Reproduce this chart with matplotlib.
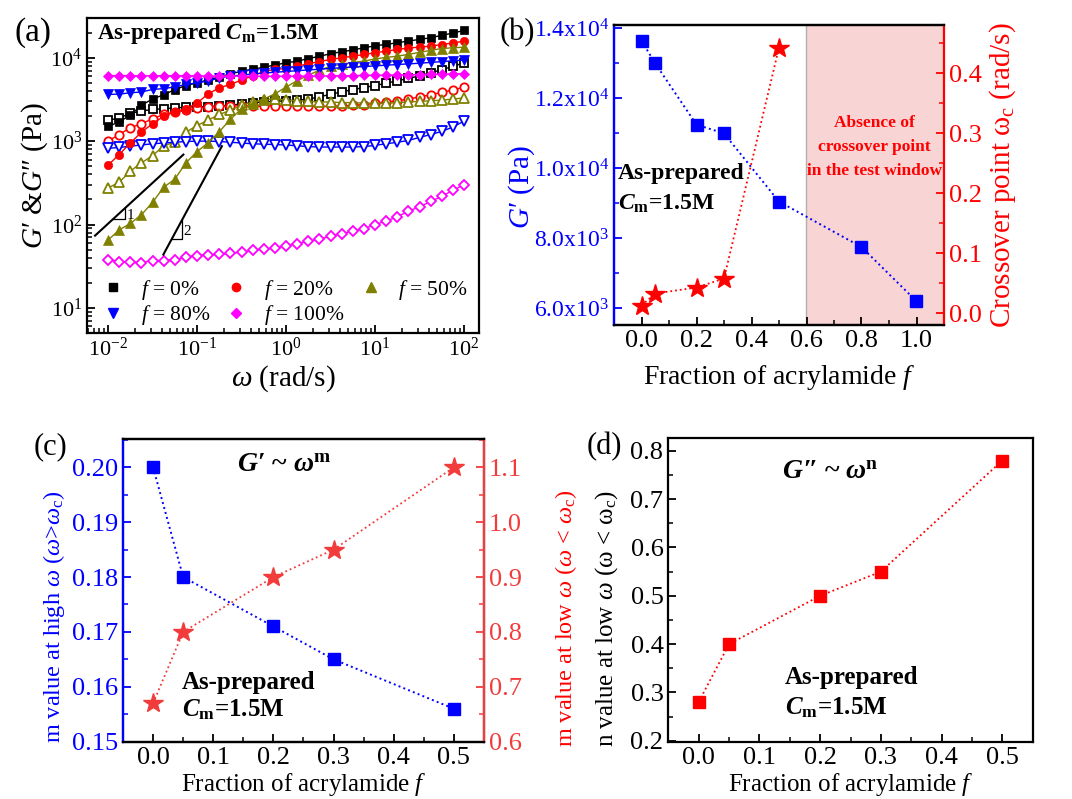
import numpy as np
import matplotlib
matplotlib.use("Agg")
import matplotlib.pyplot as plt
from matplotlib.ticker import FixedLocator, MultipleLocator, LogLocator, NullFormatter, FixedFormatter, FormatStrFormatter
from matplotlib.lines import Line2D

plt.rcParams['font.family'] = ['Liberation Serif', 'DejaVu Serif']
plt.rcParams['mathtext.fontset'] = 'custom'
plt.rcParams['mathtext.rm'] = 'Liberation Serif'
plt.rcParams['mathtext.it'] = 'Liberation Serif:italic'
plt.rcParams['mathtext.bf'] = 'Liberation Serif:bold'
plt.rcParams['mathtext.bfit'] = 'Liberation Serif:bold:italic'
plt.rcParams['axes.unicode_minus'] = False

# ---------------- data: panel (a) ----------------
omega = [0.01, 0.0133, 0.0178, 0.0237, 0.0316, 0.0422, 0.0562, 0.075, 0.1, 0.133, 0.178,
         0.237, 0.316, 0.422, 0.562, 0.75, 1.0, 1.33, 1.78, 2.37, 3.16, 4.22, 5.62, 7.5,
         10, 13.3, 17.8, 23.7, 31.6, 42.2, 56.2, 75, 100]

gp_f0 = [1500, 1700, 2050, 2700, 3200, 3600, 4150, 4650, 5000, 5450, 5900, 6400, 6900, 7300,
         7700, 8200, 8700, 9100, 9800, 10400, 11200, 11800, 12400, 13200, 13900, 14500, 15100,
         15900, 16600, 17400, 18600, 19800, 21300]
gpp_f0 = [1770, 1900, 2150, 2300, 2400, 2450, 2500, 2550, 2600, 2600, 2650, 2700, 2800, 2900,
          2950, 3000, 3050, 3100, 3200, 3400, 3650, 3900, 4150, 4400, 4650, 4950, 5300, 5650,
          6100, 6600, 7200, 7900, 8700]
gp_f20 = [515, 690, 950, 1280, 1620, 1990, 2250, 2450, 2850, 3700, 4350, 4800, 5400, 6100,
          6800, 7300, 7400, 7900, 8500, 9000, 9550, 10000, 10450, 10950, 11500, 12000, 12600,
          13100, 13400, 13800, 14400, 15100, 15800]
gpp_f20 = [1000, 1200, 1450, 1620, 1850, 2090, 2230, 2350, 2500, 2580, 2620, 2640, 2650, 2650,
           2650, 2650, 2650, 2640, 2630, 2620, 2620, 2640, 2680, 2750, 2850, 2950, 3050, 3200,
           3400, 3600, 3850, 4100, 4450]
gp_f50 = [65, 86, 103, 131, 184, 280, 350, 550, 750, 955, 1300, 1830, 2450, 2820, 3200, 3700,
          4450, 5300, 6200, 7100, 7900, 8400, 8800, 9100, 9700, 10100, 10450, 11000, 11600,
          12300, 12900, 13200, 13400]
gpp_f50 = [275, 320, 437, 550, 670, 880, 970, 1280, 1540, 1790, 2090, 2350, 2680, 2950, 3150,
           3200, 3100, 3050, 3000, 2950, 2950, 2900, 2900, 2850, 2850, 2850, 2900, 2950, 3000,
           3050, 3100, 3200, 3300]
gp_f80 = [3630, 3670, 3800, 3890, 4170, 4270, 4470, 4790, 5010, 5250, 5750, 6030, 6200, 6400,
          6550, 6700, 6850, 7000, 7150, 7300, 7450, 7600, 7750, 7850, 8000, 8150, 8300, 8450,
          8600, 8800, 9000, 9200, 9400]
gpp_f80 = [820, 840, 870, 900, 930, 950, 970, 990, 1000, 1000, 990, 970, 950, 930, 920, 910,
           900, 880, 860, 850, 850, 850, 850, 860, 890, 930, 970, 1020, 1110, 1200, 1310, 1480,
           1740]
gp_f100 = [6100, 6120, 6100, 6080, 6100, 6090, 6100, 6080, 6060, 6050, 6050, 6040, 6000, 6010,
           6000, 6020, 6000, 6010, 6030, 6050, 6060, 6100, 6100, 6150, 6160, 6200, 6200, 6250,
           6300, 6310, 6350, 6400, 6450]
gpp_f100 = [38, 36, 35.5, 35, 37, 37, 38, 40.5, 42.5, 43.5, 44, 45, 46.5, 49, 50.5, 52.5, 55,
            59, 63, 67, 72, 78, 83, 89, 100, 110, 124, 145, 163, 189, 218, 257, 302]

legend_labels = ['$f$ = 0%', '$f$ = 20%', '$f$ = 50%', '$f$ = 80%', '$f$ = 100%']

# slope guide lines (a)
guide1_x = [0.00714, 0.0702]
guide1_y = [73.6, 690]
tri1_x = [0.01147, 0.0155, 0.0155]
tri1_y = [118, 118, 160]
guide2_x = [0.0418, 0.19]
guide2_y = [43.6, 870]
tri2_x = [0.052, 0.0673, 0.0673]
tri2_y = [67.5, 67.5, 113]

# ---------------- data: panel (b) ----------------
frac_b = [0.0, 0.05, 0.2, 0.3, 0.5, 0.8, 1.0]
gprime_b = [13650, 13000, 11250, 11000, 9050, 7750, 6200]
frac_b_cross = [0.0, 0.05, 0.2, 0.3, 0.5]
omega_c = [0.013, 0.033, 0.043, 0.058, 0.443]
b_left_ticks = [6000, 8000, 10000, 12000, 14000]
b_left_labels = ['6.0x10$^3$', '8.0x10$^3$', '1.0x10$^4$', '1.2x10$^4$', '1.4x10$^4$']

# ---------------- data: panel (c) ----------------
frac_c = [0.0, 0.05, 0.2, 0.3, 0.5]
m_high = [0.200, 0.180, 0.171, 0.165, 0.156]
m_low = [0.67, 0.80, 0.90, 0.95, 1.10]

# ---------------- data: panel (d) ----------------
frac_d = [0.0, 0.05, 0.2, 0.3, 0.5]
n_low = [0.28, 0.40, 0.50, 0.55, 0.78]

BLUE = '#0000ff'
RED = '#ff0000'
LRED = '#f23c3c'
OLIVE = '#808000'
MAG = '#ff00ff'

W, H = 1072, 799
fig = plt.figure(figsize=(W / 100, H / 100), dpi=100)


def px_axes(l, t, r, b):
    return fig.add_axes([l / W, 1 - b / H, (r - l) / W, (b - t) / H])


SPW = 1.6


def style_spines(ax, lw=SPW):
    for s in ax.spines.values():
        s.set_linewidth(lw)


def tick_lengths(ax):
    ax.tick_params(which='major', length=6, width=1.3)
    ax.tick_params(which='minor', length=3.5, width=1.1)


# ============ panel (a) ============
axa = px_axes(87, 18, 479, 333)
style_spines(axa)
axa.set_xscale('log')
axa.set_yscale('log')
axa.set_xlim(0.0058, 147)
axa.set_ylim(5, 30000)

series = [
    (gp_f0, gpp_f0, 'k', 's', 5.5),
    (gp_f20, gpp_f20, RED, 'o', 6),
    (gp_f50, gpp_f50, OLIVE, '^', 6.5),
    (gp_f80, gpp_f80, BLUE, 'v', 6.5),
    (gp_f100, gpp_f100, MAG, 'D', 5.5),
]
handles = []
for gp, gpp, c, m, ms in series:
    axa.plot(omega, gpp, color=c, lw=1.0, marker=m, ms=ms, mfc='white', mec=c, mew=1.3, zorder=2)
for gp, gpp, c, m, ms in series:
    axa.plot(omega, gp, color=c, lw=1.0, marker=m, ms=ms, mfc=c, mec=c, mew=0.5, zorder=3)
    handles.append(Line2D([], [], ls='none', marker=m, ms=ms, color=c))

axa.plot(guide1_x, guide1_y, color='k', lw=1.5, zorder=4)
axa.plot(tri1_x, tri1_y, color='k', lw=0.9, zorder=4)
axa.text(0.0162, 128, '1', fontsize=11, ha='left', va='center')
axa.plot(guide2_x, guide2_y, color='k', lw=1.5, zorder=4)
axa.plot(tri2_x, tri2_y, color='k', lw=0.9, zorder=4)
axa.text(0.071, 82, '2', fontsize=11, ha='left', va='center')

axa.xaxis.set_major_locator(FixedLocator([1e-2, 1e-1, 1e0, 1e1, 1e2]))
axa.xaxis.set_minor_locator(LogLocator(base=10, subs=np.arange(2, 10), numticks=20))
axa.yaxis.set_major_locator(FixedLocator([1e1, 1e2, 1e3, 1e4]))
axa.yaxis.set_minor_locator(LogLocator(base=10, subs=np.arange(2, 10), numticks=20))
axa.xaxis.set_minor_formatter(NullFormatter())
axa.yaxis.set_minor_formatter(NullFormatter())
axa.tick_params(which='both', direction='in', top=False, right=False, labelsize=16)
tick_lengths(axa)
axa.set_xlabel(r'$\omega$ (rad/s)', fontsize=21, labelpad=2)
axa.set_ylabel('$G$′ &$G$″ (Pa)', fontsize=21, labelpad=0)
axa.text(0.026, 0.952, r'As-prepared $\mathbfit{C}_{\mathbf{m}}$=1.5M', transform=axa.transAxes,
         fontsize=16.5, fontweight='bold', ha='left', va='center')
order = [0, 3, 1, 4, 2]
axa.legend([handles[i] for i in order], [legend_labels[i] for i in order], ncol=3,
           loc='lower left', bbox_to_anchor=(-0.008, -0.04), frameon=False, fontsize=15.5,
           handlelength=1.0, handletextpad=0.8, columnspacing=0.7, labelspacing=0.08,
           borderpad=0.35)
fig.text(14 / W, 1 - 33 / H, '(a)', fontsize=24, ha='left', va='center')

# ============ panel (b) ============
axb = px_axes(614, 25, 944, 325)
style_spines(axb)
axb.set_xlim(-0.1, 1.1)
axb.set_ylim(5520, 14100)
axb.axvspan(0.6, 1.1, color='#f9d4d4', zorder=0, lw=0)
axb.axvline(0.6, color='#b0b0b0', lw=1.0, zorder=1)
axb.plot(frac_b, gprime_b, ls=':', color=BLUE, lw=1.4, marker='s', ms=8, mfc=BLUE, mec=BLUE, zorder=3)
axb.spines['left'].set_color(BLUE)
axb.spines['right'].set_visible(False)
axb.set_yticks(b_left_ticks)
axb.yaxis.set_major_formatter(FixedFormatter(b_left_labels))
axb.yaxis.set_minor_locator(MultipleLocator(1000))
axb.xaxis.set_major_locator(MultipleLocator(0.2))
axb.xaxis.set_minor_locator(MultipleLocator(0.1))
axb.tick_params(axis='both', which='both', direction='in', top=False, right=False)
tick_lengths(axb)
axb.tick_params(axis='y', which='both', colors=BLUE, labelsize=17)
axb.tick_params(axis='x', labelsize=19)
axb.set_xlabel('Fraction of acrylamide $f$', fontsize=20, labelpad=8)
axb.set_ylabel('$G$′ (Pa)', fontsize=21, color=BLUE)
axb.yaxis.set_label_coords(-0.233, 0.46)
axb.text(0.847, 0.593, 'Absence of\ncrossover point\nin the test window', color=RED,
         transform=axb.get_xaxis_transform(),
         fontsize=12.5, fontweight='bold', ha='center', va='center', linespacing=1.65)
axb.text(0.012, 0.505, 'As-prepared', transform=axb.transAxes, fontsize=17,
         fontweight='bold', ha='left', va='center')
axb.text(0.012, 0.405, r'$\mathbfit{C}_{\mathbf{m}}$=1.5M', transform=axb.transAxes, fontsize=17,
         fontweight='bold', ha='left', va='center')

axb2 = axb.twinx()
style_spines(axb2)
axb2.spines['left'].set_color(BLUE)
axb2.spines['right'].set_color(RED)
axb2.set_ylim(-0.0195, 0.4805)
axb2.plot(frac_b_cross, omega_c, ls=':', color=RED, lw=1.3, marker='*', ms=15, mfc=RED, mec=RED, zorder=3)
axb2.yaxis.set_major_locator(MultipleLocator(0.1))
axb2.yaxis.set_minor_locator(MultipleLocator(0.05))
axb2.tick_params(axis='y', which='both', direction='in', colors=RED, labelsize=19)
tick_lengths(axb2)
axb2.set_ylabel(r'Crossover point ω$_{\mathrm{c}}$ (rad/s)', fontsize=21, color=RED)
axb2.yaxis.set_label_coords(1.13, 0.5)
fig.text(500 / W, 1 - 33 / H, '(b)', fontsize=22, ha='left', va='center')

# ============ panel (c) ============
axc = px_axes(123, 439.3, 484, 741.7)
style_spines(axc)
axc.set_xlim(-0.05, 0.55)
axc.set_ylim(0.15, 0.2051)
axc.plot(frac_c, m_high, ls=':', color=BLUE, lw=1.4, marker='s', ms=8, mfc=BLUE, mec=BLUE, zorder=3)
axc.spines['left'].set_color(BLUE)
axc.yaxis.set_major_locator(MultipleLocator(0.01))
axc.yaxis.set_minor_locator(MultipleLocator(0.005))
axc.yaxis.set_major_formatter(FormatStrFormatter('%.2f'))
axc.xaxis.set_major_locator(MultipleLocator(0.1))
axc.xaxis.set_minor_locator(MultipleLocator(0.05))
axc.xaxis.set_major_formatter(FormatStrFormatter('%.1f'))
axc.tick_params(which='both', direction='in', top=False, right=False)
tick_lengths(axc)
axc.tick_params(axis='y', which='both', colors=BLUE, labelsize=19)
axc.tick_params(axis='x', labelsize=19)
axc.set_xlabel('Fraction of acrylamide $f$', fontsize=18, labelpad=2)
axc.set_ylabel(r'm value at high $\omega$ ($\omega$>$\omega_{\mathrm{c}}$)', fontsize=17.5,
               color=BLUE)
axc.yaxis.set_label_coords(-0.155, 0.412)
axc.text(0.445, 0.915, r'$\mathbfit{G}$′ ~ $\mathbfit{\omega}^{\mathbf{m}}$', transform=axc.transAxes,
         fontsize=20, fontweight='bold', ha='center', va='center')
axc.text(0.163, 0.197, 'As-prepared', transform=axc.transAxes, fontsize=18,
         fontweight='bold', ha='left', va='center')
axc.text(0.163, 0.105, r'$\mathbfit{C}_{\mathbf{m}}$=1.5M', transform=axc.transAxes, fontsize=18,
         fontweight='bold', ha='left', va='center')

axc2 = axc.twinx()
style_spines(axc2)
axc2.spines['left'].set_color(BLUE)
axc2.spines['right'].set_color(LRED)
axc2.set_ylim(0.6, 1.151)
axc2.plot(frac_c, m_low, ls=':', color=LRED, lw=1.3, marker='*', ms=15, mfc=LRED, mec=LRED, zorder=3)
axc2.yaxis.set_major_locator(MultipleLocator(0.1))
axc2.yaxis.set_minor_locator(MultipleLocator(0.05))
axc2.yaxis.set_major_formatter(FormatStrFormatter('%.1f'))
axc2.tick_params(axis='y', which='both', direction='in', colors=LRED, labelsize=19)
tick_lengths(axc2)
axc2.set_ylabel(r'm value at low $\omega$ ($\omega$ < $\omega_{\mathrm{c}}$)', fontsize=17.5,
                color=RED, rotation=90)
axc2.yaxis.set_label_coords(1.19, 0.41)
fig.text(34 / W, 1 - 447 / H, '(c)', fontsize=22, ha='left', va='center')

# ============ panel (d) ============
axd = px_axes(668.3, 438.3, 1032.7, 741.7)
style_spines(axd)
axd.set_xlim(-0.05, 0.55)
axd.set_ylim(0.198, 0.826)
axd.plot(frac_d, n_low, ls=':', color=RED, lw=1.3, marker='s', ms=8.5, mfc=RED, mec=RED, zorder=3)
axd.yaxis.set_major_locator(MultipleLocator(0.1))
axd.yaxis.set_minor_locator(MultipleLocator(0.05))
axd.yaxis.set_major_formatter(FormatStrFormatter('%.1f'))
axd.xaxis.set_major_locator(MultipleLocator(0.1))
axd.xaxis.set_minor_locator(MultipleLocator(0.05))
axd.xaxis.set_major_formatter(FormatStrFormatter('%.1f'))
axd.tick_params(which='both', direction='in', top=False, right=False, labelsize=19)
tick_lengths(axd)
axd.set_xlabel('Fraction of acrylamide $f$', fontsize=18, labelpad=2)
axd.set_ylabel(r'n value at low $\omega$ (ω < ω$_{\mathrm{c}}$)', fontsize=18)
axd.yaxis.set_label_coords(-0.1325, 0.404)
axd.text(0.444, 0.886, r'$\mathbfit{G}$″ ~ $\mathbfit{\omega}^{\mathbf{n}}$', transform=axd.transAxes,
         fontsize=20, fontweight='bold', ha='center', va='center')
axd.text(0.32, 0.213, 'As-prepared', transform=axd.transAxes, fontsize=18,
         fontweight='bold', ha='left', va='center')
axd.text(0.32, 0.111, r'$\mathbfit{C}_{\mathbf{m}}$=1.5M', transform=axd.transAxes, fontsize=18,
         fontweight='bold', ha='left', va='center')
fig.text(587 / W, 1 - 447 / H, '(d)', fontsize=22, ha='left', va='center')

fig.savefig('out.png', dpi=100)
